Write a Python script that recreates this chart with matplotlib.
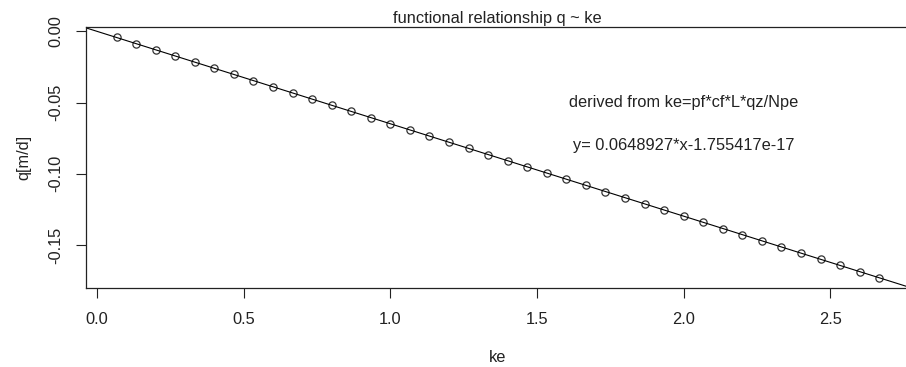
import matplotlib
matplotlib.use("Agg")
import matplotlib.pyplot as plt

plt.rcParams['font.family'] = ['Liberation Sans', 'DejaVu Sans']

# ke values and q values
ke = [0.067, 0.133, 0.200, 0.267, 0.333, 0.400, 0.467, 0.533, 0.600, 0.667,
      0.733, 0.800, 0.867, 0.933, 1.000, 1.067, 1.133, 1.200, 1.267, 1.333,
      1.400, 1.467, 1.533, 1.600, 1.667, 1.733, 1.800, 1.867, 1.933, 2.000,
      2.067, 2.133, 2.200, 2.267, 2.333, 2.400, 2.467, 2.533, 2.600, 2.667]
q = [-0.00433, -0.00865, -0.01298, -0.01730, -0.02163, -0.02596, -0.03028, -0.03461,
     -0.03894, -0.04326, -0.04759, -0.05191, -0.05624, -0.06057, -0.06489, -0.06922,
     -0.07355, -0.07787, -0.08220, -0.08652, -0.09085, -0.09518, -0.09950, -0.10383,
     -0.10815, -0.11248, -0.11681, -0.12113, -0.12546, -0.12979, -0.13411, -0.13844,
     -0.14276, -0.14709, -0.15142, -0.15574, -0.16007, -0.16439, -0.16872, -0.17305]
slope = -0.0648927
intercept = -1.755417e-17
xticks = [0.0, 0.5, 1.0, 1.5, 2.0, 2.5]
yticks = [0.00, -0.05, -0.10, -0.15]

fig = plt.figure(figsize=(9.06, 3.67), dpi=100)
ax = fig.add_axes([86/906, 1-288.3/367, (910-86)/906, (288.3-27.3)/367])

ax.plot(ke, q, linestyle='none', marker='o', markersize=5.2,
        markerfacecolor='none', markeredgecolor='#333333', markeredgewidth=0.9)
ax.axline((0, intercept), slope=slope, color='black', linewidth=0.8)

ax.set_xlim(-0.037, 2.771)
ax.set_ylim(-0.1804, 0.0028)
ax.set_xticks(xticks)
ax.set_xticklabels(['0.0', '0.5', '1.0', '1.5', '2.0', '2.5'])
ax.set_yticks(yticks)
ax.set_yticklabels(['0.00', '-0.05', '-0.10', '-0.15'], rotation=90, va='center')
ax.tick_params(axis='both', length=7, width=0.8, color='#222222', labelsize=11.8,
               labelcolor='#222222')
ax.tick_params(axis='x', pad=10)
ax.tick_params(axis='y', pad=9.5)
for s in ax.spines.values():
    s.set_linewidth(0.9)
    s.set_color('#222222')

ax.text(2.0, -0.0503, 'derived from ke=pf*cf*L*qz/Npe', ha='center', va='center',
        fontsize=11.8, color='#222222')
ax.text(2.0, -0.0805, 'y= 0.0648927*x-1.755417e-17', ha='center', va='center',
        fontsize=11.8, color='#222222')

fig.text(497/906, 1-23/367, 'functional relationship q ~ ke', ha='center',
         va='baseline', fontsize=11.8, color='#222222')
fig.text(24/906, 1-157.8/367, 'q[m/d]', rotation=90, ha='center', va='center',
         fontsize=11.8, color='#222222')
fig.text(498/906, 1-357/367, 'ke', ha='center', va='center', fontsize=11.8,
         color='#222222')

fig.savefig('out.png', dpi=100)
